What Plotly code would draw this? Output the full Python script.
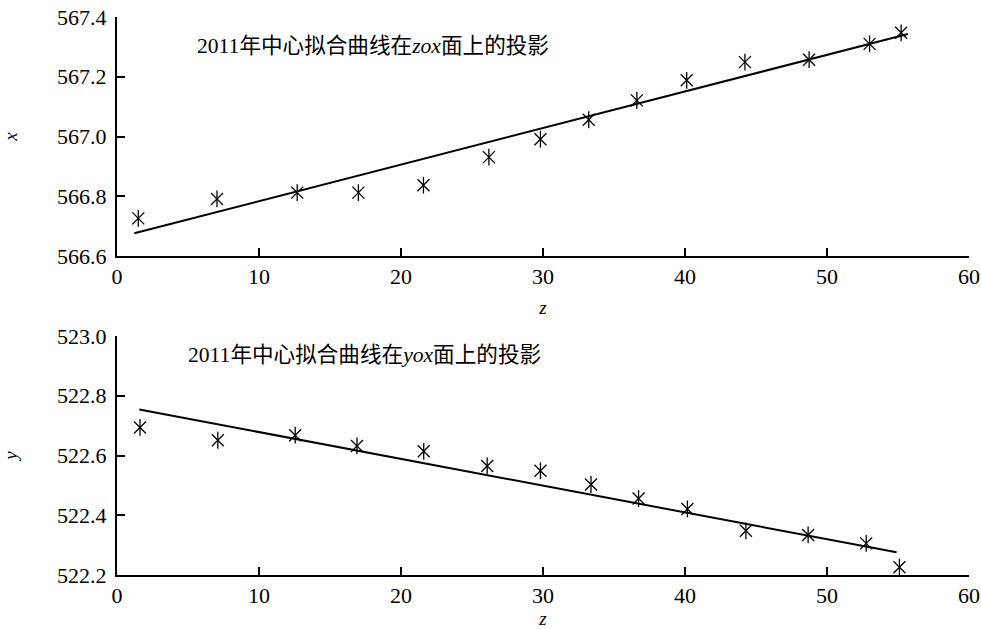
import plotly.graph_objects as go

# ---- data ----
z_top = [1.5, 7.04, 12.69, 17.0, 21.58, 26.19, 29.82, 33.22, 36.61, 40.12, 44.22, 48.74, 53.0, 55.22]
x_top = [566.726, 566.791, 566.812, 566.812, 566.837, 566.931, 566.991, 567.056, 567.121, 567.188, 567.249, 567.257, 567.310, 567.347]
fit_z_top = [1.22, 55.7]
fit_x_top = [566.676, 567.343]

z_bot = [1.62, 7.1, 12.55, 16.9, 21.6, 26.07, 29.82, 33.38, 36.73, 40.17, 44.29, 48.67, 52.76, 55.1]
y_bot = [522.694, 522.651, 522.668, 522.632, 522.614, 522.565, 522.549, 522.503, 522.456, 522.421, 522.348, 522.334, 522.306, 522.226]
fit_z_bot = [1.57, 54.9]
fit_y_bot = [522.754, 522.276]

title_top = "2011年中心拟合曲线在<i>zox</i>面上的投影"
title_bot = "2011年中心拟合曲线在<i>yox</i>面上的投影"

FONT = "'Liberation Serif', 'Noto Sans CJK SC', serif"

fig = go.Figure()

def add_panel(xa, ya, zs, vs, fz, fv):
    # asterisk made of a vertical bar plus a thin X
    for sym in ["line-ns-open", "x-thin-open"]:
        fig.add_trace(go.Scatter(x=zs, y=vs, mode="markers", xaxis=xa, yaxis=ya,
                                 marker=dict(symbol=sym, size=12, color="black",
                                             line=dict(color="black", width=1.3)),
                                 showlegend=False, hoverinfo="skip"))
    fig.add_trace(go.Scatter(x=fz, y=fv, mode="lines", xaxis=xa, yaxis=ya,
                             line=dict(color="black", width=2),
                             showlegend=False, hoverinfo="skip"))

add_panel("x", "y", z_top, x_top, fit_z_top, fit_x_top)
add_panel("x2", "y2", z_bot, y_bot, fit_z_bot, fit_y_bot)

def axis_common():
    return dict(showline=True, linecolor="black", linewidth=2, mirror=False,
                ticks="inside", ticklen=8, tickwidth=2, tickcolor="black",
                showgrid=False, zeroline=False, automargin=False,
                ticklabeloverflow="allow",
                tickfont=dict(family=FONT, size=22, color="black"))

fig.update_layout(
    width=981, height=629,
    margin=dict(l=117, r=12, t=17, b=54),
    paper_bgcolor="white", plot_bgcolor="white",
    font=dict(family=FONT, color="black"),
    xaxis=dict(domain=[0, 1], anchor="y", range=[0, 60], dtick=10, tick0=0,
               title=dict(text="<i>z</i>", font=dict(family=FONT, size=19), standoff=12),
               **axis_common()),
    yaxis=dict(domain=[0.5717, 1.0], anchor="x", range=[566.6, 567.4], dtick=0.2, tick0=566.6,
               tickformat=".1f", ticklabelstandoff=4,
               title=dict(text="<i>x</i>", font=dict(family=FONT, size=19), standoff=37),
               **axis_common()),
    xaxis2=dict(domain=[0, 1], anchor="y2", range=[0, 60], dtick=10, tick0=0,
                title=dict(text="<i>z</i>", font=dict(family=FONT, size=19), standoff=12),
                **axis_common()),
    yaxis2=dict(domain=[0, 0.4283], anchor="x2", range=[522.2, 523.0], dtick=0.2, tick0=522.2,
                tickformat=".1f", ticklabelstandoff=4,
                title=dict(text="<i>y</i>", font=dict(family=FONT, size=19), standoff=37),
                **axis_common()),
    annotations=[
        dict(text=title_top, x=5.48, y=567.304, xref="x", yref="y",
             xanchor="left", yanchor="middle", showarrow=False,
             font=dict(family=FONT, size=21.6, color="black")),
        dict(text=title_bot, x=4.85, y=522.935, xref="x2", yref="y2",
             xanchor="left", yanchor="middle", showarrow=False,
             font=dict(family=FONT, size=21.6, color="black")),
    ],
)

fig.write_html("out.html")
